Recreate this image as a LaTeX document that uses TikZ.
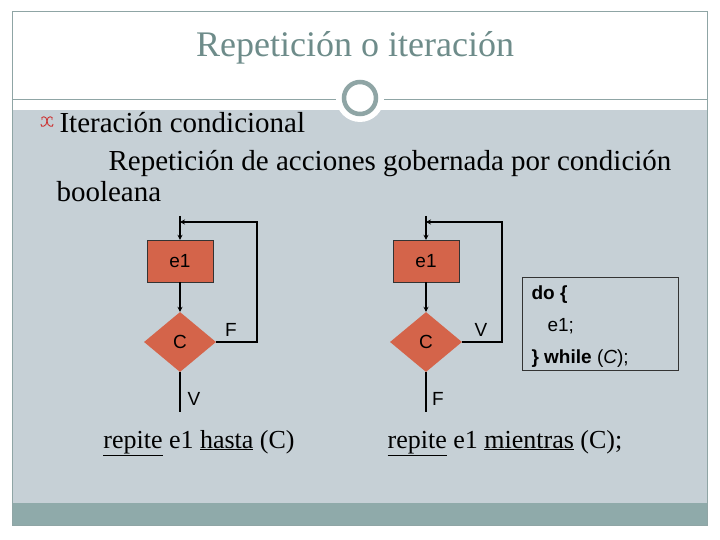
\documentclass[tikz,border=0pt]{standalone}
\usepackage{fontspec}
\setmainfont{Liberation Serif}
\newfontfamily\arial{Liberation Sans}
\usetikzlibrary{shapes.geometric,arrows.meta}
\definecolor{bg}{HTML}{C6D0D6}
\definecolor{frame}{HTML}{8FA5A5}
\definecolor{ttl}{HTML}{6E8C8A}
\definecolor{blk}{HTML}{D4644A}
\definecolor{bar}{HTML}{8FAAAA}
\tikzset{
  proc/.style={draw=black!80,fill=blk,minimum width=66pt,minimum height=42pt,inner sep=0pt,font=\arial\fontsize{19}{22}\selectfont},
  cond/.style={draw=none,fill=blk,diamond,minimum width=72pt,minimum height=60pt,inner sep=0pt,font=\arial\fontsize{19}{22}\selectfont},
  flow/.style={line width=1.4pt,draw=black},
  arr/.style={flow,-{Stealth[length=5pt,width=5pt]}},
  lbl/.style={font=\arial\fontsize{19}{22}\selectfont},
  body/.style={font=\fontsize{29}{34}\selectfont,anchor=base west},
  bot/.style={font=\fontsize{26}{30}\selectfont,anchor=base}
}
\begin{document}
\begin{tikzpicture}[x=1pt,y=-1pt]
\useasboundingbox (0,0) rectangle (720,540);
\fill[white] (0,0) rectangle (720,540);
\fill[bg] (12,110) rectangle (707,525);
\fill[bar] (12,503) rectangle (707,525);
\draw[frame,line width=1pt] (12,12) rectangle (707,525);
\draw[frame,line width=1pt] (12,100) -- (707,100);
\fill[white] (360,98) circle (24);
\draw[frame,line width=4.5pt] (360,98) circle (16);
\node[font=\fontsize{36}{40}\selectfont,text=ttl] (title) at (355,48) {Repetición o iteración};
% bullet ornament
\draw[red!60!gray,line width=0.9pt] (42,120) .. controls (40,116) and (47,115) .. (47,121) .. controls (47,127) and (40,128) .. (41,124);
\draw[red!60!gray,line width=0.9pt] (52,120) .. controls (54,116) and (47,115) .. (47,121) .. controls (47,127) and (54,128) .. (53,124);
\node[body] (t1) at (56,133) {Iteración condicional};
\node[body] (t2) at (105,171) {Repetición de acciones gobernada por condición};
\node[body] (t3) at (53,202) {booleana};
% left flowchart
\node[proc] (e1a) at (180,261) {e1};
\node[cond] (ca) at (180,342) {C};
\coordinate (sa) at (180,216);
\coordinate (ja) at (180,222);
\coordinate (ra) at (257,222);
\coordinate (ea) at (180,412);
\draw[arr] (sa) -- (e1a.north);
\draw[arr] (e1a.south) -- (ca.north);
\draw[arr] (ca.east) -| (ra) -- (ja);
\draw[flow] (ca.south) -- (ea);
\node[lbl] (fa) at (231,330) {F};
\node[lbl] (va) at (194,399) {V};
% right flowchart
\node[proc] (e1b) at (426,261) {e1};
\node[cond] (cb) at (426,342) {C};
\coordinate (sb) at (426,216);
\coordinate (jb) at (426,222);
\coordinate (rb) at (502,222);
\coordinate (eb) at (426,412);
\draw[arr] (sb) -- (e1b.north);
\draw[arr] (e1b.south) -- (cb.north);
\draw[arr] (cb.east) -| (rb) -- (jb);
\draw[flow] (cb.south) -- (eb);
\node[lbl] (vb) at (481,330) {V};
\node[lbl] (fb) at (438,399) {F};
% code box
\node[draw=black!80,line width=0.8pt,minimum width=156pt,minimum height=93pt,anchor=north west,inner sep=0pt] (code) at (522,277) {};
\node[lbl,anchor=base west] (c1) at (528,299) {\bfseries do \{};
\node[lbl,anchor=base west] (c2) at (544,331) {e1;};
\node[lbl,anchor=base west] (c3) at (528,363) {\bfseries \} while \mdseries(\itshape C\upshape);};
% bottom texts
\node[bot] (ba) at (199,448) {\underline{repite} e1 \underline{hasta} (C)};
\node[bot] (bb) at (505,448) {\underline{repite} e1 \underline{mientras} (C);};
\end{tikzpicture}
\end{document}
